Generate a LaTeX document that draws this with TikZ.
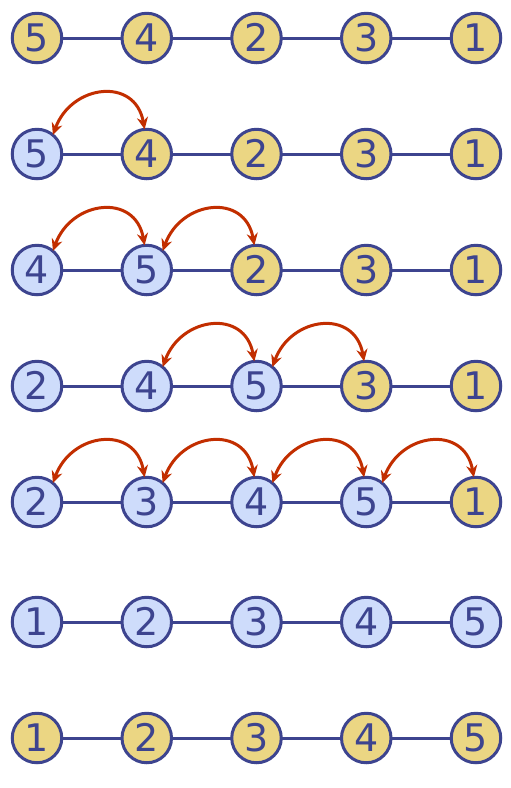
\documentclass[tikz,border=0pt]{standalone}
\usepackage{fontspec}
\setmainfont{DejaVu Sans}
\usepackage{tikz}
\usetikzlibrary{matrix,arrows.meta}
\definecolor{ink}{HTML}{3D448F}
\definecolor{yel}{HTML}{EBD683}
\definecolor{blu}{HTML}{CEDCFB}
\definecolor{swapred}{HTML}{C22E00}

\begin{document}
\begin{tikzpicture}[
  ball/.style={circle, draw=ink, line width=3pt, fill=yel, text=ink,
               minimum size=49.5pt, inner sep=0pt, anchor=center,
               text height=27.7pt, text depth=0pt,
               font=\fontsize{38}{38}\selectfont},
  done/.style={fill=blu},
  edge/.style={draw=ink, line width=3pt},
  swp/.style={draw=swapred, line width=3pt,
              {Stealth[length=12pt,width=11pt]}-{Stealth[length=12pt,width=11pt]},
              out=70, in=100, looseness=1.5},
]
\useasboundingbox (0,0) rectangle (511pt,-788pt);
\matrix (m) at (10.75pt,-11.75pt) [matrix of nodes, anchor=north west,
             inner sep=0pt, outer sep=0pt, nodes={ball},
             column sep=57.25pt, row sep=63.5pt] {
  5 & 4 & 2 & 3 & 1 \\
  |[done]| 5 & 4 & 2 & 3 & 1 \\
  |[done]| 4 & |[done]| 5 & 2 & 3 & 1 \\
  |[done]| 2 & |[done]| 4 & |[done]| 5 & 3 & 1 \\
  |[done]| 2 & |[done]| 3 & |[done]| 4 & |[done]| 5 & 1 \\[4pt]
  |[done]| 1 & |[done]| 2 & |[done]| 3 & |[done]| 4 & |[done]| 5 \\
  1 & 2 & 3 & 4 & 5 \\
};
% links along each row
\foreach \r in {1,...,7}
  \foreach \c [count=\n from 2] in {1,...,4}
    \draw[edge] (m-\r-\c) -- (m-\r-\n);
% swaps
\draw[swp] (m-2-1.50) to (m-2-2.95);
\draw[swp] (m-3-1.50) to (m-3-2.95);
\draw[swp] (m-3-2.50) to (m-3-3.95);
\draw[swp] (m-4-2.50) to (m-4-3.95);
\draw[swp] (m-4-3.50) to (m-4-4.95);
\foreach \c [count=\n from 2] in {1,...,4}
  \draw[swp] (m-5-\c.50) to (m-5-\n.95);
\end{tikzpicture}
\end{document}
